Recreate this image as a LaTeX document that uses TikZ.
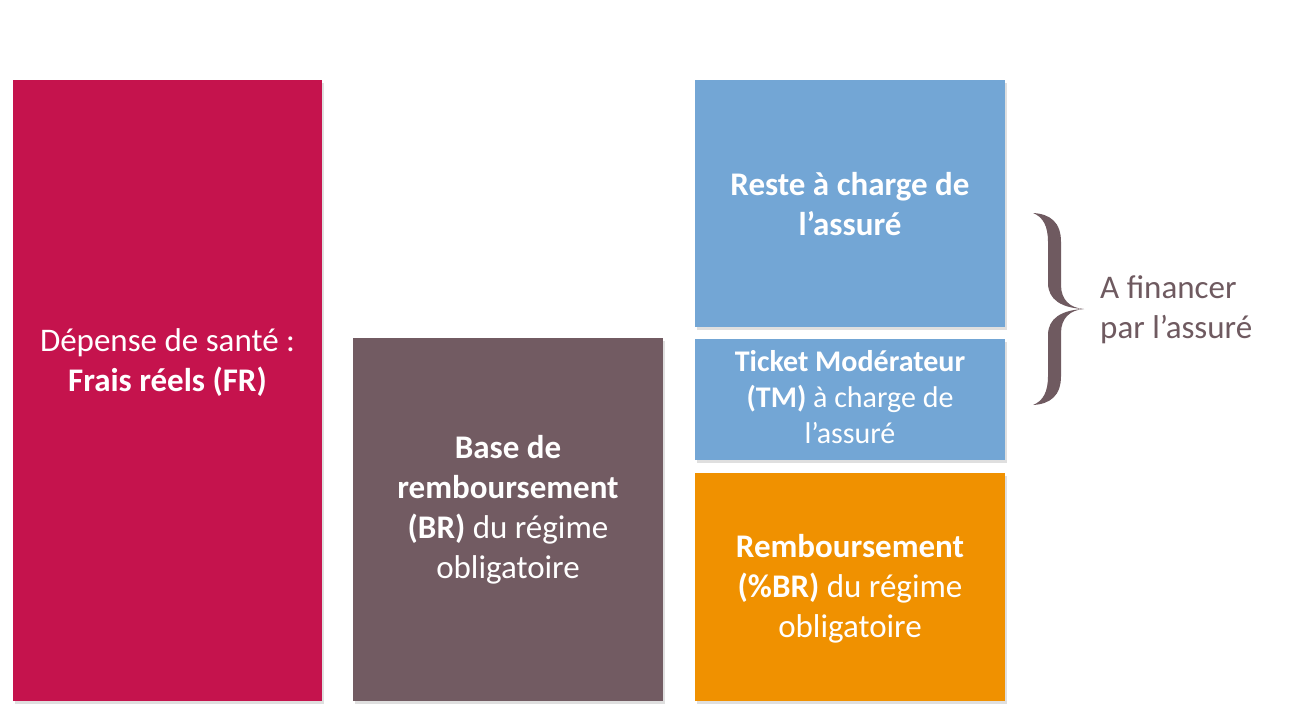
\documentclass[tikz,border=0pt]{standalone}
\usepackage{fontspec}
\setmainfont{Carlito}
\usetikzlibrary{shadows}
\definecolor{frcol}{HTML}{C5134D}
\definecolor{brcol}{HTML}{725B62}
\definecolor{blcol}{HTML}{73A6D5}
\definecolor{rbcol}{HTML}{F09100}
\definecolor{bracecol}{HTML}{6F5A60}
\begin{document}
\begin{tikzpicture}[x=1bp,y=-1bp,
  boxstyle/.style={draw=none, inner sep=0, minimum width=310bp, anchor=north west,
    drop shadow={opacity=0.25, shadow xshift=1.5bp, shadow yshift=-2.5bp, fill=gray}},
  txt/.style={text=white, align=center, inner sep=0, font=\fontsize{33bp}{40bp}\selectfont},
]
\useasboundingbox[fill=white] (0,0) rectangle (1304,727);
\node[boxstyle, fill=frcol, minimum width=309bp, minimum height=621bp] (fr) at (13,80) {};
\node[boxstyle, fill=brcol, minimum height=363bp] (br) at (353,338) {};
\node[boxstyle, fill=blcol, minimum height=247bp] (rac) at (695,80) {};
\node[boxstyle, fill=blcol, minimum height=121bp] (tm) at (695,339) {};
\node[boxstyle, fill=rbcol, minimum height=228bp] (rb) at (695,473) {};

\node[txt] (frt) at (167.5,363) {Dépense de santé :\\\textbf{Frais réels (FR)}};
\node[txt] (brt) at (508,510) {\textbf{Base de}\\\textbf{remboursement}\\\textbf{(BR)} du régime\\obligatoire};
\node[txt] (ract) at (850,204) {\textbf{Reste à charge de}\\\textbf{l’assuré}};
\node[txt, font=\fontsize{30bp}{36bp}\selectfont] (tmt) at (850,397) {\textbf{Ticket Modérateur}\\\textbf{(TM)} à charge de\\l’assuré};
\node[txt] (rbt) at (850,589) {\textbf{Remboursement}\\\textbf{(\%BR)} du régime\\obligatoire};

\fill[bracecol] (1033,213) .. controls (1050,214) and (1061,222) .. (1061,242)
  -- (1061,285) .. controls (1061,300) and (1070,308) .. (1084,309)
  .. controls (1070,310) and (1061,318) .. (1061,333)
  -- (1061,376) .. controls (1061,396) and (1050,404) .. (1033,405)
  .. controls (1043,401) and (1048,392) .. (1048,376)
  -- (1048,335) .. controls (1048,318) and (1062,310) .. (1084,309)
  .. controls (1062,308) and (1048,300) .. (1048,283)
  -- (1048,242) .. controls (1048,226) and (1043,217) .. (1033,213) -- cycle;
\node[text=bracecol, align=left, anchor=west, inner sep=0, font=\fontsize{33bp}{40bp}\selectfont] (fin) at (1100,310) {A financer\\par l’assuré};
\end{tikzpicture}
\end{document}
